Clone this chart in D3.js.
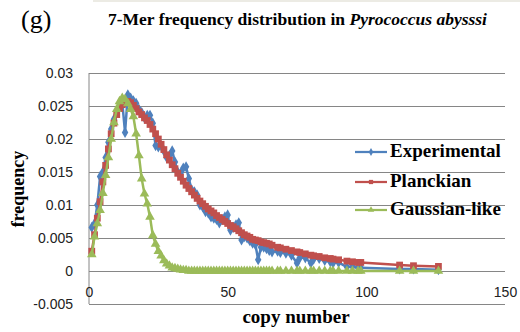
<!DOCTYPE HTML>
<html>
<head>
    <title>7-Mer frequency distribution</title>
    <script type="text/javascript" src="https://cdn.jsdelivr.net/npm/d3@7/dist/d3.min.js"></script>
    <style>
        body {
            margin: 0;
            background-color: white;
        }
        .tick-label text {
            font-family: "Liberation Sans", Arial, sans-serif;
            font-size: 14px;
            fill: #222;
        }
        .serif {
            font-family: "Liberation Serif", "Times New Roman", serif;
            fill: black;
        }
    </style>
</head>

<body>
    <div id="panel"></div>

    <script>
        // copy numbers shared by all three series
        var copy_numbers = [
            1, 2, 3, 4, 5, 6, 7, 8, 9, 10, 11, 12, 13, 14, 15, 16, 17, 18, 19, 20,
            21, 22, 23, 24, 25, 26, 27, 28, 29, 30, 31, 32, 33, 34, 35, 36, 37, 38, 39, 40,
            41, 42, 43, 44, 45, 46, 47, 48, 49, 50, 51, 52, 53, 54, 55, 56, 57, 58, 59, 60,
            61, 62, 63, 64, 65, 66, 68, 69, 71, 73, 75, 76, 78, 80, 81, 83, 85, 87, 88, 90,
            93, 95, 97, 98, 112, 117, 126
        ];
        var experimental = [
            0.0066, 0.0072, 0.0100, 0.0143, 0.0150, 0.0172, 0.0195, 0.0215, 0.0230, 0.0242,
            0.0250, 0.0255, 0.0210, 0.0267, 0.0262, 0.0258, 0.0254, 0.0245, 0.0240, 0.0232,
            0.0236, 0.0236, 0.0224, 0.0190, 0.0188, 0.0190, 0.0182, 0.0172, 0.0175, 0.0182,
            0.0165, 0.0150, 0.0148, 0.0156, 0.0158, 0.0140, 0.0123, 0.0120, 0.0115, 0.0100,
            0.0097, 0.0090, 0.0088, 0.0082, 0.0080, 0.0078, 0.0073, 0.0078, 0.0082, 0.0085,
            0.0062, 0.0066, 0.0070, 0.0073, 0.0047, 0.0052, 0.0050, 0.0046, 0.0042, 0.0040,
            0.0017, 0.0036, 0.0036, 0.0034, 0.0031, 0.0029, 0.0030, 0.0028, 0.0027, 0.0024,
            0.0012, 0.0020, 0.0020, 0.0012, 0.0018, 0.0019, 0.0016, 0.0014, 0.0012, 0.0013,
            0.0006, 0.0007, 0.0005, 0.0005, 0.0003, 0.0003, 0.0002
        ];
        var planckian = [
            0.0030, 0.0055, 0.0080, 0.0105, 0.0135, 0.0160, 0.0185, 0.0208, 0.0224, 0.0237,
            0.0246, 0.0252, 0.0256, 0.0257, 0.0255, 0.0251, 0.0246, 0.0241, 0.0237, 0.0232,
            0.0228, 0.0222, 0.0215, 0.0208, 0.0200, 0.0192, 0.0184, 0.0176, 0.0168, 0.0161,
            0.0155, 0.0148, 0.0142, 0.0136, 0.0130, 0.0125, 0.0120, 0.0115, 0.0110, 0.0106,
            0.0102, 0.0098, 0.0094, 0.0091, 0.0088, 0.0084, 0.0081, 0.0078, 0.0075, 0.0072,
            0.0069, 0.0067, 0.0064, 0.0061, 0.0058, 0.0055, 0.0053, 0.0051, 0.0048, 0.0047,
            0.0046, 0.0044, 0.0043, 0.0042, 0.0041, 0.0039, 0.0036, 0.0035, 0.0033, 0.0031,
            0.0029, 0.0028, 0.0026, 0.0024, 0.0023, 0.0022, 0.0020, 0.0019, 0.0018, 0.0017,
            0.0015, 0.0014, 0.0013, 0.0013, 0.0009, 0.0008, 0.0007
        ];
        var gaussian_like = [
            0.0025, 0.0052, 0.0072, 0.0092, 0.0118, 0.0145, 0.0172, 0.0200, 0.0225, 0.0245,
            0.0257, 0.0262, 0.0260, 0.0254, 0.0245, 0.0234, 0.0208, 0.0175, 0.0140, 0.0117,
            0.0102, 0.0082, 0.0054, 0.0041, 0.0030, 0.0023, 0.0016, 0.0011, 0.0008, 0.0005,
            0.0004, 0.0003, 0.0002, 0.0001, 0.0001, 0, 0, 0, 0, 0,
            0, 0, 0, 0, 0, 0, 0, 0, 0, 0,
            0, 0, 0, 0, 0, 0, 0, 0, 0, 0,
            0, 0, 0, 0, 0, 0, 0, 0, 0, 0,
            0, 0, 0, 0, 0, 0, 0, 0, 0, 0,
            0, 0, 0, 0, 0, 0, 0
        ];
        var series_names = ["Experimental", "Planckian", "Gaussian-like"];
        var x_ticks = [0, 50, 100, 150];
        var y_ticks = [-0.005, 0, 0.005, 0.01, 0.015, 0.02, 0.025, 0.03];
        var y_tick_labels = ["-0.005", "0", "0.005", "0.01", "0.015", "0.02", "0.025", "0.03"];
    </script>

    <script>
        var width = 520;
        var height = 332;
        var plot_left = 89, plot_right = 505, plot_top = 73, plot_bottom = 304;
        var colors = ["#4F81BD", "#C0504D", "#9BBB59"];
        var marker_types = [d3.symbolDiamond, d3.symbolSquare, d3.symbolTriangle];
        var marker_sizes = [36, 46, 40];

        var svgContainer = d3.select("#panel").append("svg")
                                              .attr("width", width)
                                              .attr("height", height);

        var x = d3.scaleLinear().domain([0, 150]).range([plot_left, plot_right]);
        var y = d3.scaleLinear().domain([-0.005, 0.03]).range([plot_bottom, plot_top]);

        // thin band along the top edge of the original figure
        svgContainer.append("rect")
                    .attr("x", 93).attr("y", 0)
                    .attr("width", width - 93).attr("height", 2)
                    .attr("fill", "#ecebe4");

        // gridlines + y labels
        var y_axis = d3.axisLeft(y)
                       .tickValues(y_ticks)
                       .tickFormat(function(d, i){ return y_tick_labels[i]; })
                       .tickSize(-(plot_right - plot_left))
                       .tickPadding(16);
        var gy = svgContainer.append("g")
                             .attr("class", "tick-label")
                             .attr("transform", "translate(" + plot_left + ",0)")
                             .call(y_axis);
        gy.select(".domain").remove();
        gy.selectAll(".tick line").attr("stroke", "#868686").attr("stroke-width", 1);

        svgContainer.append("line")
                    .attr("x1", plot_left).attr("x2", plot_left)
                    .attr("y1", plot_top).attr("y2", plot_bottom)
                    .attr("stroke", "#868686").attr("stroke-width", 1);

        // x labels sit just under the zero line
        var x_axis = d3.axisBottom(x)
                       .tickValues(x_ticks)
                       .tickSize(0)
                       .tickPadding(16);
        var gx = svgContainer.append("g")
                             .attr("class", "tick-label")
                             .attr("transform", "translate(0," + y(0) + ")")
                             .call(x_axis);
        gx.select(".domain").remove();

        // series
        var all_values = [experimental, planckian, gaussian_like];
        var line = d3.line()
                     .x(function(d){ return x(d[0]); })
                     .y(function(d){ return y(d[1]); });

        for(var s = 0; s < all_values.length; ++s)
        {
            var pts = copy_numbers.map(function(c, i){ return [c, all_values[s][i]]; });
            svgContainer.append("path")
                        .datum(pts)
                        .attr("d", line)
                        .attr("fill", "none")
                        .attr("stroke", colors[s])
                        .attr("stroke-width", 2.5)
                        .attr("stroke-linejoin", "round");
            var sym = d3.symbol().type(marker_types[s]).size(marker_sizes[s]);
            svgContainer.append("g")
                        .selectAll("path")
                        .data(pts)
                        .enter()
                        .append("path")
                        .attr("d", sym)
                        .attr("transform", function(d){ return "translate(" + x(d[0]) + "," + y(d[1]) + ")"; })
                        .attr("fill", colors[s]);
        }

        // legend
        var legend_y = [152, 182, 210];
        for(var s = 0; s < series_names.length; ++s)
        {
            svgContainer.append("line")
                        .attr("x1", 355).attr("x2", 387)
                        .attr("y1", legend_y[s]).attr("y2", legend_y[s])
                        .attr("stroke", colors[s]).attr("stroke-width", 2.25);
            svgContainer.append("path")
                        .attr("d", d3.symbol().type(marker_types[s]).size(18))
                        .attr("transform", "translate(371," + legend_y[s] + ")")
                        .attr("fill", colors[s]);
            svgContainer.append("text")
                        .attr("class", "serif")
                        .attr("x", 390).attr("y", legend_y[s] + 5)
                        .attr("font-size", "19px")
                        .attr("font-weight", "bold")
                        .text(series_names[s]);
        }

        // titles
        svgContainer.append("text")
                    .attr("class", "serif")
                    .attr("x", 21).attr("y", 28)
                    .attr("font-size", "26px")
                    .text("(g)");
        var title = svgContainer.append("text")
                                .attr("class", "serif")
                                .attr("x", 108).attr("y", 25)
                                .attr("font-size", "17.5px")
                                .attr("font-weight", "bold");
        title.append("tspan").text("7-Mer frequency distribution in ");
        title.append("tspan").attr("font-style", "italic").text("Pyrococcus abysssi");

        svgContainer.append("text")
                    .attr("class", "serif")
                    .attr("x", 296).attr("y", 323)
                    .attr("text-anchor", "middle")
                    .attr("font-size", "19px")
                    .attr("font-weight", "bold")
                    .text("copy number");
        svgContainer.append("text")
                    .attr("class", "serif")
                    .attr("transform", "translate(24,189) rotate(-90)")
                    .attr("text-anchor", "middle")
                    .attr("font-size", "18px")
                    .attr("font-weight", "bold")
                    .text("frequency");
    </script>
</body>
</html>
